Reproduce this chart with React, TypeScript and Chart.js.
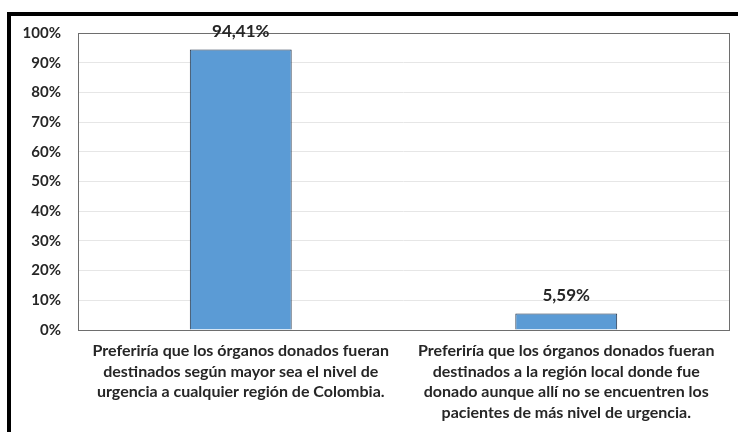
import React, { useEffect, useRef } from "react";
import { Chart, registerables } from "chart.js";

Chart.register(...registerables);

const categories: string[][] = [
  ["Preferiría que los órganos donados fueran", "destinados según mayor sea el nivel de", "urgencia a cualquier región de Colombia."],
  ["Preferiría que los órganos donados fueran", "destinados a la región local donde fue", "donado aunque allí no se encuentren los", "pacientes de más nivel de urgencia."],
];
const values: number[] = [94.41, 5.59];
const yMax = 100;
const yStep = 10;

const FONT = "Lato, 'Liberation Sans', sans-serif";
const TEXT = "#262626";

const boxPlugin = {
  id: "boxPlugin",
  afterDraw(chart: any) {
    const { ctx, chartArea } = chart;
    ctx.save();
    ctx.strokeStyle = "#6e6e6e";
    ctx.lineWidth = 1;
    ctx.strokeRect(Math.round(chartArea.left) + 0.5, Math.round(chartArea.top) + 0.5, Math.round(chartArea.right - chartArea.left), Math.round(chartArea.bottom - chartArea.top));
    ctx.restore();
  },
};

const labelPlugin = {
  id: "labelPlugin",
  afterDraw(chart: any) {
    const { ctx } = chart;
    const meta = chart.getDatasetMeta(0);
    ctx.save();
    ctx.font = `bold 17px ${FONT}`;
    ctx.fillStyle = TEXT;
    ctx.textAlign = "center";
    ctx.textBaseline = "middle";
    meta.data.forEach((bar: any, i: number) => {
      const v = values[i].toFixed(2).replace(".", ",") + "%";
      ctx.fillText(v, bar.x, bar.y - 18);
    });
    ctx.restore();
  },
};

export default function App() {
  const ref = useRef<HTMLCanvasElement>(null);
  useEffect(() => {
    if (!ref.current) return;
    const chart = new Chart(ref.current, {
      type: "bar",
      data: {
        labels: categories,
        datasets: [
          {
            data: values,
            backgroundColor: "#5b9bd5",
            borderColor: "#1f2f44",
            borderWidth: 1,
            barPercentage: 0.313,
            categoryPercentage: 1,
          },
        ],
      },
      options: {
        animation: false,
        responsive: false,
        maintainAspectRatio: false,
        layout: { padding: { top: 33, right: 9, left: 0, bottom: 0 } },
        plugins: { legend: { display: false }, tooltip: { enabled: false } },
        scales: {
          x: {
            grid: { display: false, drawTicks: false },
            border: { display: false },
            ticks: {
              autoSkip: false,
              maxRotation: 0,
              minRotation: 0,
              padding: 11,
              color: TEXT,
              font: { family: FONT, size: 16, weight: "bold", lineHeight: 1.28 },
            },
            afterFit(scale: any) {
              scale.height = 102;
            },
          },
          y: {
            min: 0,
            max: yMax,
            grid: { color: "#e6e6e6", drawTicks: false },
            border: { display: false },
            ticks: {
              stepSize: yStep,
              padding: 17,
              color: TEXT,
              font: { family: FONT, size: 15, weight: "bold" },
              callback: (v: any) => `${v}%`,
            },
            afterFit(scale: any) {
              scale.width = 78;
            },
          },
        },
      },
      plugins: [boxPlugin, labelPlugin],
    });
    return () => chart.destroy();
  }, []);
  return (
    <div style={{ position: "fixed", left: 0, top: 0, width: 738, height: 432, background: "#fff", overflow: "hidden" }}>
      <div style={{ position: "absolute", left: 7, top: 12, width: 800, height: 500, borderLeft: "4px solid #000", borderTop: "4px solid #000" }} />
      <canvas ref={ref} width={738} height={432} style={{ position: "absolute", left: 0, top: 0 }} />
    </div>
  );
}
